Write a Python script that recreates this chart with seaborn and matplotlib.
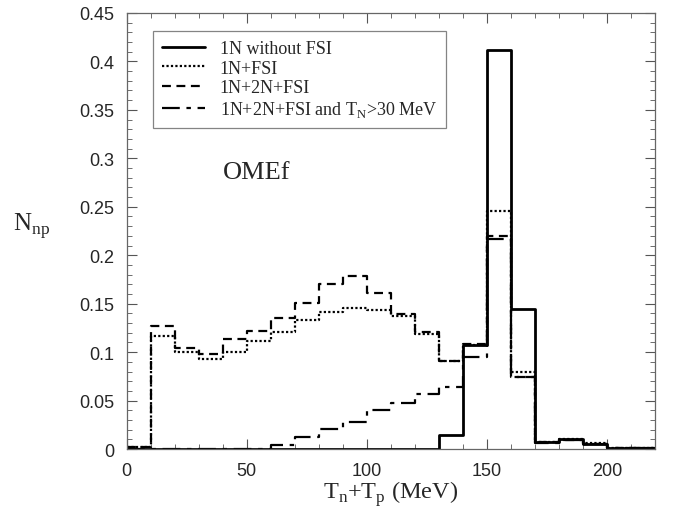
import numpy as np
import pandas as pd
import matplotlib
matplotlib.use("Agg")
import matplotlib.pyplot as plt
import seaborn as sns
from matplotlib.ticker import MultipleLocator, FuncFormatter

# bin edges (MeV), 10 MeV bins from 0 to 220
edges = list(range(0, 230, 10))

# values per bin
n_1n = [0, 0, 0, 0, 0, 0, 0, 0, 0, 0, 0, 0, 0, 0.0145, 0.107, 0.412, 0.144,
        0.007, 0.010, 0.005, 0.001, 0.001]
n_1n_fsi = [0.002, 0.117, 0.100, 0.093, 0.100, 0.111, 0.121, 0.133, 0.141, 0.146,
            0.143, 0.137, 0.119, 0.091, 0.107, 0.246, 0.080, 0.007, 0.010, 0.006,
            0.001, 0.001]
n_2n_fsi = [0.002, 0.127, 0.104, 0.098, 0.114, 0.122, 0.135, 0.151, 0.170, 0.179,
            0.161, 0.139, 0.121, 0.091, 0.108, 0.220, 0.074, 0.007, 0.009, 0.005,
            0.001, 0.001]
n_2n_cut = [0, 0, 0, 0, 0, 0, 0.004, 0.012, 0.021, 0.028, 0.040, 0.047, 0.057,
            0.064, 0.095, 0.217, 0.074, 0.006, 0.009, 0.005, 0.001, 0.001]

labels = ["1N without FSI", "1N+FSI", "1N+2N+FSI",
          r"1N+2N+FSI and T$_\mathregular{N}$>30 MeV"]
series = [n_1n, n_1n_fsi, n_2n_fsi, n_2n_cut]
styles = ["-", (0, (1, 1)), (0, (4, 2.5)), (0, (8, 3, 2, 3))]
widths = [2.0, 1.6, 1.6, 1.6]

sns.set_style("ticks")
plt.rcParams["font.family"] = ["Liberation Sans", "DejaVu Sans"]
plt.rcParams["mathtext.fontset"] = "custom"
plt.rcParams["mathtext.rm"] = "Liberation Serif"

fig = plt.figure(figsize=(6.73, 5.10), dpi=100)
ax = fig.add_axes([0.188, 0.1176, 0.785, 0.855])

for vals, lab, ls, lw in zip(series, labels, styles, widths):
    df = pd.DataFrame({"E": edges, "N": vals + [vals[-1]]})
    sns.lineplot(data=df, x="E", y="N", ax=ax, color="black", linestyle=ls,
                 linewidth=lw, drawstyle="steps-post", label=lab)

ax.set_xlim(0, 220)
ax.set_ylim(0, 0.45)
ax.xaxis.set_major_locator(MultipleLocator(50))
ax.xaxis.set_minor_locator(MultipleLocator(10))
ax.yaxis.set_major_locator(MultipleLocator(0.05))
ax.yaxis.set_minor_locator(MultipleLocator(0.01))
ax.yaxis.set_major_formatter(FuncFormatter(lambda v, p: f"{v:.2f}".rstrip("0").rstrip(".")))
ax.tick_params(which="both", direction="in", top=True, right=True, labelsize=13,
               color="#555555")
ax.tick_params(axis="y", which="major", pad=9)
ax.tick_params(axis="x", which="major", pad=9)
ax.tick_params(which="major", length=7, width=0.8)
ax.tick_params(which="minor", length=3.5, width=0.6)
for s in ax.spines.values():
    s.set_color("#666666")
    s.set_linewidth(0.9)

serif = ["Liberation Serif", "DejaVu Serif"]
ax.set_xlabel(r"T$_\mathregular{n}$+T$_\mathregular{p}$ (MeV)", fontsize=17.5,
              family=serif, labelpad=0)
ax.set_ylabel(r"N$_\mathregular{np}$", fontsize=18, family=serif, rotation=0)
ax.yaxis.set_label_coords(-0.18, 0.48)
ax.text(40, 0.286, "OMEf", fontsize=19, family=serif, va="center")

leg = ax.legend(loc="upper left", bbox_to_anchor=(0.05, 0.959), borderaxespad=0,
                frameon=True, fancybox=False, edgecolor="#666666",
                handlelength=2.4, handletextpad=0.8, borderpad=0.5,
                prop={"family": serif, "size": 13}, labelspacing=0.15)
leg.get_frame().set_linewidth(0.9)

fig.savefig("out.png", dpi=100)
